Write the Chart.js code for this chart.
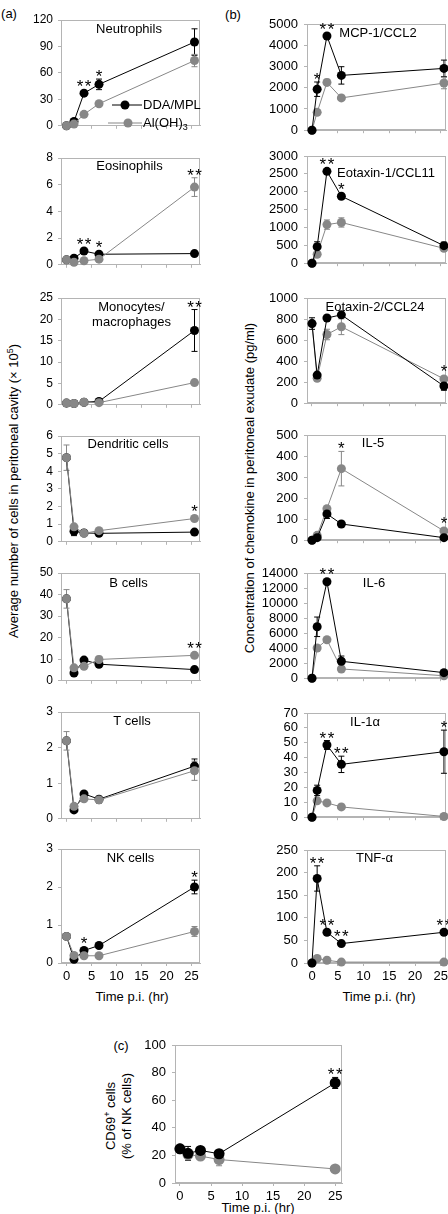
<!DOCTYPE html>
<html>
<head>
<meta charset="utf-8">
<script src="https://cdn.jsdelivr.net/npm/chart.js@4.4.1/dist/chart.umd.min.js"></script>
<style>
  html, body { margin: 0; padding: 0; background: #fff; }
  body { position: relative; width: 448px; height: 1214px; overflow: hidden;
         font-family: "Liberation Sans", Arial, sans-serif; color: #000; }
  canvas { position: absolute; }
  .lab { position: absolute; font-size: 13px; white-space: nowrap; line-height: 1; }
  .rot { transform: translate(-50%, -50%) rotate(-90deg); text-align: center; }
  .ctr { transform: translate(-50%, -50%); }
</style>
</head>
<body>
<div class="lab ctr" style="left:9px;top:13px">(a)</div>
<div class="lab ctr" style="left:233px;top:14px">(b)</div>
<div class="lab ctr" style="left:121px;top:1045px">(c)</div>
<div class="lab rot" style="left:13px;top:491px">Average number of cells in peritoneal cavity (× 10<sup style="font-size:9px">5</sup>)</div>
<div class="lab rot" style="left:249px;top:488px">Concentration of chemokine in peritoneal exudate (pg/ml)</div>
<div class="lab ctr" style="left:132px;top:996px">Time p.i. (hr)</div>
<div class="lab ctr" style="left:379px;top:996px">Time p.i. (hr)</div>
<div class="lab ctr" style="left:258px;top:1207px">Time p.i. (hr)</div>
<div class="lab rot" style="left:117px;top:1116px;line-height:16px">CD69<sup style="font-size:9px">+</sup> cells<br>(% of NK cells)</div>

<script>
// sampling times (hr) as plotted in each panel group
const timesA = [0, 1.5, 3.5, 6.5, 25.6];
const timesB = [0, 1, 2.9, 5.7, 25.6];
const timesC = [0, 1.3, 3.3, 6.3, 25];

// (a) cell counts
const neutDDA = [0, 5, 37, 47, 95];
const neutDDAErr = [0, 0, 0, 6, 15];
const neutAl = [0, 2, 13, 25, 74];
const neutAlErr = [0, 0, 0, 0, 7];
const neutStars = ['', '', '**', '*', ''];

const eosDDA = [0.37, 0.5, 1.03, 0.79, 0.84];
const eosDDAErr = [0, 0, 0, 0, 0];
const eosAl = [0.37, 0.19, 0.3, 0.42, 5.82];
const eosAlErr = [0, 0, 0, 0, 0.7];
const eosStars = ['', '', '**', '*', '**'];

const monoDDA = [0.4, 0.3, 0.6, 0.8, 17.4];
const monoDDAErr = [0, 0, 0, 0, 4.9];
const monoAl = [0.4, 0.3, 0.6, 0.5, 5.2];
const monoAlErr = [0, 0, 0, 0, 0];
const monoStars = ['', '', '', '', '**'];

const dcDDA = [4.77, 0.6, 0.5, 0.48, 0.55];
const dcDDAErr = [0, 0.25, 0, 0, 0];
const dcAl = [4.77, 0.85, 0.48, 0.63, 1.32];
const dcAlErr = [0.72, 0, 0, 0, 0];
const dcStars = ['', '', '', '', '*'];

const bDDA = [38, 3.6, 9.6, 7.7, 5.2];
const bDDAErr = [0, 1, 0, 0, 0];
const bAl = [38, 6, 6.7, 9.9, 11.8];
const bAlErr = [4.3, 0, 0, 1.5, 0];
const bStars = ['', '', '', '', '**'];

const tDDA = [2.19, 0.25, 0.7, 0.55, 1.48];
const tDDAErr = [0, 0, 0, 0, 0.2];
const tAl = [2.19, 0.35, 0.56, 0.53, 1.35];
const tAlErr = [0.26, 0, 0, 0.1, 0.27];
const tStars = ['', '', '', '', ''];

const nkDDA = [0.7, 0.1, 0.33, 0.46, 2.0];
const nkDDAErr = [0, 0, 0, 0, 0.18];
const nkAl = [0.7, 0.2, 0.19, 0.19, 0.83];
const nkAlErr = [0, 0, 0, 0, 0.13];
const nkStars = ['', '', '*', '', '*'];

// (b) chemokines, pg/ml
const mcpDDA = [0, 1930, 4435, 2580, 2910];
const mcpDDAErr = [0, 340, 0, 410, 390];
const mcpAl = [0, 840, 2250, 1520, 2220];
const mcpAlErr = [0, 0, 150, 100, 270];
const mcpStars = ['', '*', '**', '', ''];

const eot1DDA = [0, 460, 2570, 1875, 490];
const eot1DDAErr = [0, 140, 0, 0, 100];
const eot1Al = [0, 250, 1080, 1140, 415];
const eot1AlErr = [0, 0, 130, 130, 0];
const eot1Stars = ['', '', '**', '*', ''];
const eot1TickText = ['0', '500', '1000', '2500', '2000', '2500', '3000'];

const eot2DDA = [757, 267, 810, 840, 163];
const eot2DDAErr = [55, 0, 0, 0, 40];
const eot2Al = [757, 237, 653, 727, 231];
const eot2AlErr = [0, 0, 50, 75, 0];
const eot2Stars = ['', '', '', '', '*'];

const il5DDA = [0, 12, 125, 77, 12];
const il5DDAErr = [0, 0, 22, 0, 0];
const il5Al = [0, 23, 150, 340, 44];
const il5AlErr = [0, 0, 0, 82, 0];
const il5Stars = ['', '', '', '*', '*'];

const il6DDA = [0, 6840, 12830, 2250, 740];
const il6DDAErr = [0, 1300, 0, 700, 0];
const il6Al = [0, 4020, 5120, 1230, 330];
const il6AlErr = [0, 0, 0, 0, 0];
const il6Stars = ['', '', '**', '', ''];

const il1DDA = [0, 18, 48.5, 35.5, 44];
const il1DDAErr = [0, 3.5, 3, 5.5, 14.5];
const il1Al = [0, 11, 9.6, 6.9, 0.5];
const il1AlErr = [0, 0, 0, 0, 0];
const il1Stars = ['', '', '**', '**', '*'];

const tnfDDA = [0, 187, 68, 43, 68];
const tnfDDAErr = [0, 28, 0, 0, 0];
const tnfAl = [0, 10, 6, 2, 2];
const tnfAlErr = [0, 0, 0, 0, 0];
const tnfStars = ['', '**', '**', '**', '**'];

// (c) CD69+ NK cells, %
const cdDDA = [24.8, 21.5, 23.6, 21.2, 72.5];
const cdDDAErr = [0, 5, 0, 0, 4];
const cdAl = [24.8, 20.5, 19.5, 17, 10.2];
const cdAlErr = [0, 0, 2, 4.5, 0];
const cdStars = ['', '', '', '', '**'];

const BLACK = '#000000';
const GRAY = '#878787';
const FRAME = '#b4b4b4';
const FONT = '"Liberation Sans", Arial, sans-serif';

Chart.defaults.font.family = FONT;
Chart.defaults.color = '#000';

const errBars = {
  id: 'errBars',
  beforeDatasetsDraw(chart) {
    const ctx = chart.ctx, y = chart.scales.y;
    chart.data.datasets.forEach((ds, i) => {
      const meta = chart.getDatasetMeta(i);
      ctx.save();
      ctx.strokeStyle = ds.borderColor;
      ctx.lineWidth = 1;
      ds.err.forEach((e, j) => {
        if (!e) return;
        const pt = meta.data[j];
        const v = ds.data[j].y;
        const y1 = y.getPixelForValue(v + e), y2 = y.getPixelForValue(Math.max(0, v - e));
        ctx.beginPath();
        ctx.moveTo(pt.x, y1); ctx.lineTo(pt.x, y2);
        ctx.moveTo(pt.x - 3, y1); ctx.lineTo(pt.x + 3, y1);
        ctx.moveTo(pt.x - 3, y2); ctx.lineTo(pt.x + 3, y2);
        ctx.stroke();
      });
      ctx.restore();
    });
  }
};

const stars = {
  id: 'stars',
  afterDatasetsDraw(chart, args, opts) {
    const ctx = chart.ctx, y = chart.scales.y;
    const r = chart.data.datasets[0].pointRadius;
    ctx.save();
    ctx.fillStyle = '#000';
    ctx.font = '17px ' + FONT;
    ctx.textAlign = 'center';
    ctx.textBaseline = 'alphabetic';
    opts.marks.forEach((s, j) => {
      if (!s) return;
      let top = Infinity, x = 0;
      chart.data.datasets.forEach((ds, i) => {
        const pt = chart.getDatasetMeta(i).data[j];
        x = pt.x;
        top = Math.min(top, pt.y - r, y.getPixelForValue(ds.data[j].y + ds.err[j]));
      });
      ctx.fillText(s.split('').join('\u200a'), x, top + 3);
    });
    ctx.restore();
  }
};

const frame = {
  id: 'frame',
  beforeDatasetsDraw(chart) {
    const a = chart.chartArea, ctx = chart.ctx;
    ctx.save();
    ctx.strokeStyle = FRAME;
    ctx.lineWidth = 1;
    ctx.strokeRect(Math.round(a.left) + 0.5, Math.round(a.top) + 0.5,
      Math.round(a.right - a.left) - 1, Math.round(a.bottom - a.top) - 1);
    ctx.restore();
  }
};

const panelTitle = {
  id: 'panelTitle',
  afterDraw(chart, args, opts) {
    const a = chart.chartArea, ctx = chart.ctx;
    ctx.save();
    ctx.fillStyle = '#000';
    ctx.font = '13px ' + FONT;
    ctx.textAlign = 'center';
    ctx.textBaseline = 'middle';
    const cx = (a.left + a.right) / 2 + opts.dx;
    opts.lines.forEach((t, k) => ctx.fillText(t, cx, a.top + opts.dy + k * 15));
    ctx.restore();
  }
};

const legendBox = {
  id: 'legendBox',
  afterDraw(chart, args, opts) {
    if (!opts.show) return;
    const a = chart.chartArea, ctx = chart.ctx;
    const rows = [
      { color: BLACK, text: 'DDA/MPL', sub: '', dy: 85, x0: 51, x1: 81, cx: 64 },
      { color: GRAY, text: 'Al(OH)', sub: '3', dy: 103, x0: 47, x1: 81, cx: 67 },
    ];
    ctx.save();
    rows.forEach(rw => {
      const yy = a.top + rw.dy;
      ctx.strokeStyle = rw.color; ctx.lineWidth = 1;
      ctx.beginPath(); ctx.moveTo(a.left + rw.x0, yy); ctx.lineTo(a.left + rw.x1, yy); ctx.stroke();
      ctx.fillStyle = rw.color;
      ctx.beginPath(); ctx.arc(a.left + rw.cx, yy, 4.5, 0, Math.PI * 2); ctx.fill();
      ctx.fillStyle = '#000';
      ctx.font = '13px ' + FONT;
      ctx.textAlign = 'left'; ctx.textBaseline = 'middle';
      ctx.fillText(rw.text, a.left + 82, yy);
      if (rw.sub) {
        const w = ctx.measureText(rw.text).width;
        ctx.font = '9px ' + FONT;
        ctx.fillText(rw.sub, a.left + 82 + w, yy + 5);
      }
    });
    ctx.restore();
  }
};

function pts(xs, ys) { return xs.map((x, i) => ({ x, y: ys[i] })); }

function makePanel(p) {
  const padL = 52, padT = 16, padR = 8;
  const xh = p.xLabels ? 22 : 5;
  const c = document.createElement('canvas');
  const w = p.r - p.l + padL + padR, h = p.b - p.t + padT + xh;
  c.width = w; c.height = h;
  c.style.width = w + 'px'; c.style.height = h + 'px';
  c.style.left = (p.l - padL) + 'px'; c.style.top = (p.t - padT) + 'px';
  document.body.appendChild(c);

  const rad = p.rad || 4.5;
  const mk = (label, vals, err, color, order) => ({
    label, data: pts(p.xs, vals), err, order,
    borderColor: color, backgroundColor: color, borderWidth: 1,
    pointRadius: rad, pointBorderWidth: 0, pointBackgroundColor: color,
    tension: 0, clip: false,
  });
  const grayTop = p.grayTop;

  new Chart(c, {
    type: 'line',
    data: {
      datasets: [
        mk('DDA/MPL', p.dda, p.ddaErr, BLACK, grayTop ? 1 : 0),
        mk('Al(OH)3', p.al, p.alErr, GRAY, grayTop ? 0 : 1),
      ],
    },
    options: {
      responsive: false,
      animation: false,
      devicePixelRatio: 1,
      layout: { padding: { top: padT, right: padR, left: 0, bottom: 0 } },
      plugins: {
        legend: { display: false },
        tooltip: { enabled: false },
        stars: { marks: p.stars },
        panelTitle: { lines: p.title, dx: p.tdx, dy: p.tdy },
        legendBox: { show: !!p.legend },
      },
      scales: {
        x: {
          type: 'linear', min: p.xmin, max: p.xmax,
          afterFit: (s) => { s.height = xh; },
          grid: { drawOnChartArea: false, tickLength: 3, color: FRAME },
          border: { color: FRAME },
          ticks: { stepSize: 5, includeBounds: false, display: !!p.xLabels, padding: 3,
                   autoSkip: false, maxRotation: 0, font: { size: 13 }, color: '#000' },
        },
        y: {
          min: 0, max: p.yMax,
          afterFit: (s) => { s.width = padL; },
          grid: { drawOnChartArea: false, tickLength: 3, color: FRAME },
          border: { color: FRAME },
          ticks: {
            stepSize: p.yStep, autoSkip: false, padding: p.ypad || 5,
            font: { size: p.yFont || 12 }, color: '#000',
            callback: p.tickText ? (v, i) => p.tickText[i] : (v) => v,
          },
        },
      },
    },
    plugins: [frame, errBars, stars, panelTitle, legendBox],
  });
}

const A = { xs: timesA, xmin: -1.1, xmax: 26.7, l: 61, r: 200, grayTop: true };
const B = { xs: timesB, xmin: -0.97, xmax: 26.0, l: 307, r: 446, grayTop: false, yFont: 13, ypad: 6 };

const panels = [
  { ...A, t: 20, b: 133, yMax: 120, yStep: 30, dda: neutDDA, ddaErr: neutDDAErr, al: neutAl, alErr: neutAlErr, stars: neutStars, title: ['Neutrophils'], tdx: -1.5, tdy: 9, legend: true },
  { ...A, t: 158, b: 272, yMax: 8, yStep: 2, dda: eosDDA, ddaErr: eosDDAErr, al: eosAl, alErr: eosAlErr, stars: eosStars, title: ['Eosinophils'], tdx: -1, tdy: 8 },
  { ...A, t: 298, b: 412, yMax: 25, yStep: 5, dda: monoDDA, ddaErr: monoDDAErr, al: monoAl, alErr: monoAlErr, stars: monoStars, title: ['Monocytes/', 'macrophages'], tdx: 1, tdy: 9 },
  { ...A, t: 436, b: 549, yMax: 6, yStep: 1, dda: dcDDA, ddaErr: dcDDAErr, al: dcAl, alErr: dcAlErr, stars: dcStars, title: ['Dendritic cells'], tdx: -2.5, tdy: 8 },
  { ...A, t: 573, b: 688, yMax: 50, yStep: 10, dda: bDDA, ddaErr: bDDAErr, al: bAl, alErr: bAlErr, stars: bStars, title: ['B cells'], tdx: -2, tdy: 10 },
  { ...A, t: 712, b: 826, yMax: 3, yStep: 1, dda: tDDA, ddaErr: tDDAErr, al: tAl, alErr: tAlErr, stars: tStars, title: ['T cells'], tdx: 1.5, tdy: 9 },
  { ...A, t: 849, b: 963, yMax: 3, yStep: 1, dda: nkDDA, ddaErr: nkDDAErr, al: nkAl, alErr: nkAlErr, stars: nkStars, title: ['NK cells'], tdx: 0, tdy: 9, xLabels: true },

  { ...B, t: 24, b: 139, yMax: 5000, yStep: 1000, dda: mcpDDA, ddaErr: mcpDDAErr, al: mcpAl, alErr: mcpAlErr, stars: mcpStars, title: ['MCP-1/CCL2'], tdx: 1.5, tdy: 9 },
  { ...B, t: 156, b: 272, yMax: 3000, yStep: 500, dda: eot1DDA, ddaErr: eot1DDAErr, al: eot1Al, alErr: eot1AlErr, stars: eot1Stars, title: ['Eotaxin-1/CCL11'], tdx: 9.5, tdy: 17, tickText: eot1TickText },
  { ...B, t: 298, b: 412, yMax: 1000, yStep: 200, dda: eot2DDA, ddaErr: eot2DDAErr, al: eot2Al, alErr: eot2AlErr, stars: eot2Stars, title: ['Eotaxin-2/CCL24'], tdx: -1.5, tdy: 9 },
  { ...B, t: 435, b: 549, yMax: 500, yStep: 100, dda: il5DDA, ddaErr: il5DDAErr, al: il5Al, alErr: il5AlErr, stars: il5Stars, title: ['IL-5'], tdx: -3.5, tdy: 8 },
  { ...B, t: 573, b: 687, yMax: 14000, yStep: 2000, dda: il6DDA, ddaErr: il6DDAErr, al: il6Al, alErr: il6AlErr, stars: il6Stars, title: ['IL-6'], tdx: -2.5, tdy: 10 },
  { ...B, t: 713, b: 826, yMax: 70, yStep: 10, dda: il1DDA, ddaErr: il1DDAErr, al: il1Al, alErr: il1AlErr, stars: il1Stars, title: ['IL-1α'], tdx: -11.5, tdy: 9 },
  { ...B, t: 850, b: 963, yMax: 250, yStep: 50, dda: tnfDDA, ddaErr: tnfDDAErr, al: tnfAl, alErr: tnfAlErr, stars: tnfStars, title: ['TNF-α'], tdx: -2, tdy: 8, xLabels: true },

  { xs: timesC, xmin: -0.8, xmax: 26.1, l: 175, r: 342, t: 1045, b: 1183, grayTop: false, yFont: 13, ypad: 6, rad: 5.5,
    yMax: 100, yStep: 20, dda: cdDDA, ddaErr: cdDDAErr, al: cdAl, alErr: cdAlErr, stars: cdStars, title: [], tdx: 0, tdy: 0, xLabels: true },
];

panels.forEach(makePanel);
</script>
</body>
</html>
